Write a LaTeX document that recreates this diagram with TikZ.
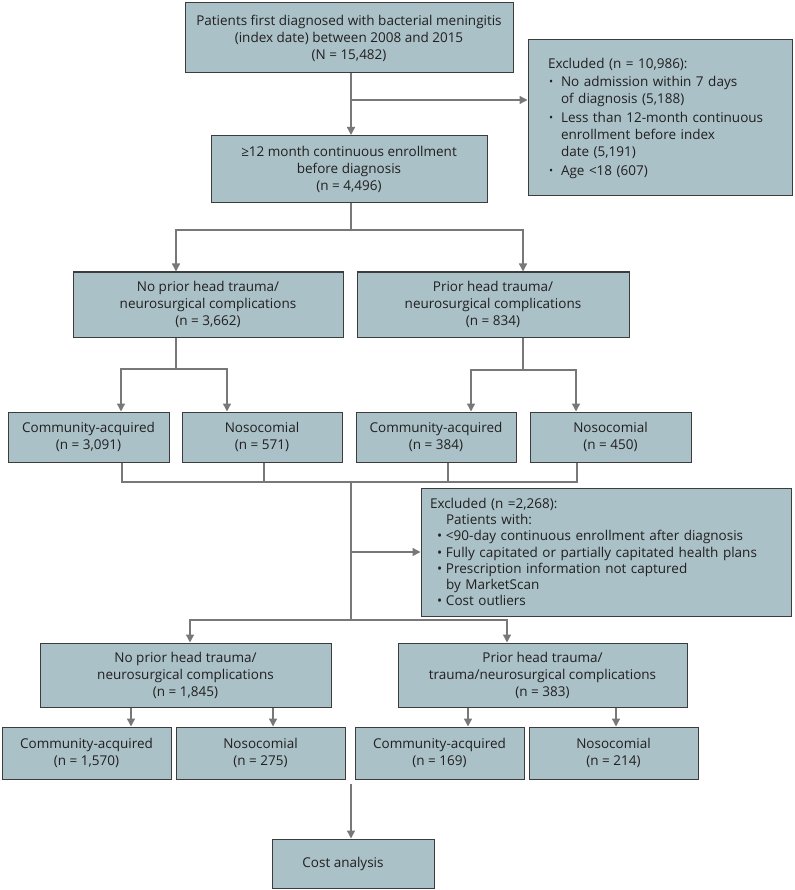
\documentclass[tikz,border=0pt]{standalone}
\usepackage{fontspec}
\usepackage{graphicx}
\setmainfont{Open Sans}
\usetikzlibrary{arrows.meta}

\definecolor{boxfill}{RGB}{169,193,199}
\definecolor{boxline}{RGB}{60,60,60}
\definecolor{linegray}{RGB}{120,120,120}
\definecolor{txt}{RGB}{35,31,32}

\newcommand{\dotitem}{\hspace*{1pt}\makebox[12pt][l]{\raisebox{.1ex}{\scalebox{.8}{•}}}}
\newcommand{\dotcont}{\hspace*{13pt}}
\newcommand{\bulitem}{\hspace*{7pt}\makebox[9pt][l]{•}}
\newcommand{\bulcont}{\hspace*{16pt}}

\tikzset{
  box/.style={draw=boxline,fill=boxfill,line width=1pt,inner sep=0pt,align=center,
    text=txt,font=\fontsize{13.5}{17}\selectfont},
  ln/.style={draw=linegray,line width=1.4pt},
  arr/.style={ln,-{Triangle[length=8pt,width=8pt]}}
}

\begin{document}
\begin{tikzpicture}[x=1pt,y=-1pt]
  \useasboundingbox (0,0) rectangle (794,890);

  \node[box,minimum width=328,minimum height=70] (pat) at (349,38)
    {Patients first diagnosed with bacterial meningitis\\(index date) between 2008 and 2015\\(N = 15,482)};
  \node[box,align=left,text width=224pt,inner xsep=20pt,minimum height=156] (exc1) at (660,118)
    {Excluded (n = 10,986):\\[1pt]
     \dotitem No admission within 7 days\\
     \dotcont of diagnosis (5,188)\\[2pt]
     \dotitem Less than 12-month continuous\\
     \dotcont enrollment before index\\
     \dotcont date (5,191)\\[2pt]
     \dotitem Age <18 (607)};
  \node[box,minimum width=276,minimum height=67] (enr) at (349,169)
    {≥12 month continuous enrollment\\before diagnosis\\(n = 4,496)};

  \node[box,minimum width=270,minimum height=65] (nohead1) at (208,304.5)
    {No prior head trauma/\\neurosurgical complications\\(n = 3,662)};
  \node[box,minimum width=272,minimum height=65] (head1) at (493,304.5)
    {Prior head trauma/\\neurosurgical complications\\(n = 834)};

  \node[box,minimum width=161,minimum height=50] (ca1) at (88.5,437) {Community-acquired\\(n = 3,091)};
  \node[box,minimum width=160,minimum height=50] (noso1) at (262,437) {Nosocomial\\(n = 571)};
  \node[box,minimum width=160,minimum height=50] (ca2) at (436,437) {Community-acquired\\(n = 384)};
  \node[box,minimum width=161,minimum height=50] (noso2) at (610.5,437) {Nosocomial\\(n = 450)};

  \node[box,align=left,text width=352pt,inner xsep=9pt,minimum height=128,
    font=\fontsize{13.5}{16.3}\selectfont] (exc2) at (606,552)
    {Excluded (n =2,268):\\
     \bulcont Patients with:\\
     \bulitem <90-day continuous enrollment after diagnosis\\
     \bulitem Fully capitated or partially capitated health plans\\
     \bulitem Prescription information not captured\\
     \bulcont by MarketScan\\
     \bulitem Cost outliers};

  \node[box,minimum width=291,minimum height=64] (nohead2) at (185.5,675)
    {No prior head trauma/\\neurosurgical complications\\(n = 1,845)};
  \node[box,minimum width=289,minimum height=64] (head2) at (542.5,675)
    {Prior head trauma/\\trauma/neurosurgical complications\\(n = 383)};

  \node[box,minimum width=169,minimum height=52] (ca3) at (86.5,753) {Community-acquired\\(n = 1,570)};
  \node[box,minimum width=169,minimum height=52] (noso3) at (260.5,753) {Nosocomial\\(n = 275)};
  \node[box,minimum width=169,minimum height=52] (ca4) at (439.5,753) {Community-acquired\\(n = 169)};
  \node[box,minimum width=169,minimum height=52] (noso4) at (613.5,753) {Nosocomial\\(n = 214)};

  \node[box,minimum width=162,minimum height=49] (cost) at (353,863.5) {Cost analysis\hspace*{20pt}};

  \coordinate (j1) at (351,100);
  \coordinate (j2) at (351,230);
  \coordinate (j3) at (176,369);
  \coordinate (j4) at (523,370);
  \coordinate (j5) at (351,482);
  \coordinate (j6) at (351,552);
  \coordinate (j7) at (351,620);
  \coordinate (j8) at (351,784);

  \draw[arr] (pat.south -| j1) -- (enr.north -| j1);
  \draw[arr] (j1) -- (exc1.west |- j1);
  \draw[ln] (enr.south -| j2) -- (j2);
  \draw[arr] (j2) -| (nohead1.north -| j3);
  \draw[arr] (j2) -| (head1.north -| j4);

  \draw[ln] (nohead1.south -| j3) -- (j3);
  \draw[ln] (head1.south -| j4) -- (j4);
  \foreach \n/\x in {ca1/121,noso1/227}
    \draw[arr] (j3) -| (\n.north -| \x,0);
  \foreach \n/\x in {ca2/471,noso2/576}
    \draw[arr] (j4) -| (\n.north -| \x,0);

  \draw[ln] (ca1.south -| 122,0) |- (j5) -| (noso2.south -| 577,0);
  \foreach \n/\x in {noso1/264,ca2/448}
    \draw[ln] (\n.south -| \x,0) -- (\x,482);
  \draw[ln] (j5) -- (j7);
  \draw[arr] (j6) -- (exc2.west |- j6);
  \draw[arr] (j7) -| (nohead2.north -| 190,0);
  \draw[arr] (j7) -| (head2.north -| 507,0);

  \foreach \p/\n/\x in {nohead2/ca3/131,nohead2/noso3/273,head2/ca4/468,head2/noso4/616}
    \draw[arr] (\p.south -| \x,0) -- (\n.north -| \x,0);

  \draw[arr] (j8) -- (cost.north -| j8);
\end{tikzpicture}
\end{document}
